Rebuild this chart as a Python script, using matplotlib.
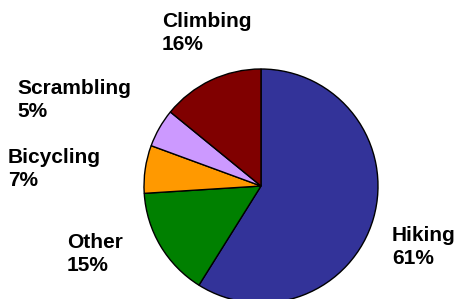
import matplotlib
matplotlib.use("Agg")
import matplotlib.pyplot as plt

# wedge sizes, labels as printed on it
activities = ["Hiking", "Other", "Bicycling", "Scrambling", "Climbing"]
shares = [58.9, 15.1, 6.6, 5.3, 14.1]
pct_labels = ["61%", "15%", "7%", "5%", "16%"]
colors = ["#333399", "#008000", "#FF9900", "#CC99FF", "#800000"]

# label block centres in pixels (x = left edge, y = from top)
label_pos = [(392, 247), (67, 254), (8, 169), (17, 100), (162, 33)]

W, H = 456, 299
cx, cy, r = 261, 186, 117

fig = plt.figure(figsize=(W / 100, H / 100), dpi=100)
ax = fig.add_axes([(cx - r) / W, (H - cy - r) / H, 2 * r / W, 2 * r / H])
ax.pie(shares, colors=colors, startangle=90, counterclock=False,
       wedgeprops={"edgecolor": "black", "linewidth": 1.0})
ax.set_xlim(-1, 1)
ax.set_ylim(-1, 1)
ax.axis("off")

for name, pct, (px, py) in zip(activities, pct_labels, label_pos):
    fig.text(px / W, 1 - py / H, f"{name}\n{pct}", ha="left", va="center",
             fontsize=15, fontweight="bold", family="Liberation Sans",
             linespacing=1.28)

fig.savefig("out.png", dpi=100)
